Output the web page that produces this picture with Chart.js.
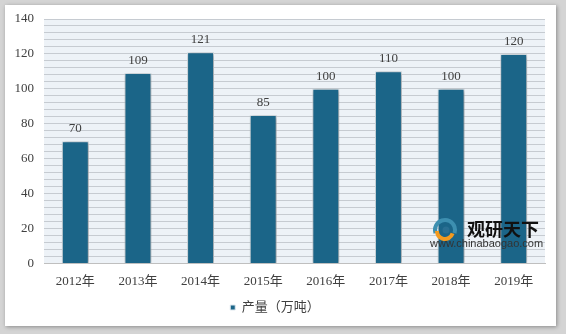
<!DOCTYPE html>
<html>
<head>
<meta charset="utf-8">
<script src="https://cdn.jsdelivr.net/npm/chart.js@4/dist/chart.umd.min.js"></script>
<style>
  html, body { margin: 0; padding: 0; background: #d4d4d4; }
  body { width: 566px; height: 334px; position: relative; overflow: hidden; }
  .panel {
    position: absolute; left: 5px; top: 5px; width: 551px; height: 321px;
    background: #fff; box-shadow: 1px 1px 4px rgba(0,0,0,0.35);
  }
</style>
</head>
<body>
<div class="panel"><canvas id="c" width="551" height="321"></canvas></div>
<script>
// data
const years = ['2012年', '2013年', '2014年', '2015年', '2016年', '2017年', '2018年', '2019年'];
const output = [70, 109, 121, 85, 100, 110, 100, 120];
const seriesName = '产量（万吨）';
const yMax = 140;

const FONT = '"Liberation Serif", "Times New Roman", "Noto Sans CJK SC", serif';

// plot background + bar shadows + value labels + watermark
const decor = {
  id: 'decor',
  beforeDraw(chart) {
    const { ctx, chartArea: a } = chart;
    ctx.save();
    ctx.fillStyle = '#edf2f7';
    ctx.fillRect(a.left, a.top, a.right - a.left, a.bottom - a.top);
    ctx.restore();
  },
  beforeDatasetsDraw(chart) {
    const ctx = chart.ctx;
    ctx.save();
    ctx.shadowColor = 'rgba(0,0,0,0.4)';
    ctx.shadowBlur = 4;
    ctx.shadowOffsetX = 1;
    ctx.shadowOffsetY = 1;
  },
  afterDatasetsDraw(chart) {
    const ctx = chart.ctx;
    ctx.restore();
    ctx.save();
    ctx.font = '13px ' + FONT;
    ctx.fillStyle = '#404040';
    ctx.textAlign = 'center';
    ctx.textBaseline = 'bottom';
    chart.getDatasetMeta(0).data.forEach((bar, i) => {
      ctx.fillText(output[i], bar.x, bar.y - 6);
    });
    ctx.restore();
  },
  afterDraw(chart) {
    const ctx = chart.ctx;
    ctx.save();
    // logo swirl
    const cx = 440, cy = 225;
    ctx.lineWidth = 4;
    ctx.strokeStyle = '#3d8fb0';
    ctx.beginPath(); ctx.arc(cx, cy, 10, Math.PI * 0.9, Math.PI * 2.1); ctx.stroke();
    ctx.strokeStyle = '#f39a1e';
    ctx.beginPath(); ctx.arc(cx, cy + 1, 8, Math.PI * 0.1, Math.PI * 1.0); ctx.stroke();
    ctx.fillStyle = '#2a6f92';
    ctx.beginPath(); ctx.arc(cx + 1, cy, 3.5, 0, Math.PI * 2); ctx.fill();
    ctx.fillStyle = '#111';
    ctx.font = 'bold 18px "Noto Sans CJK SC", sans-serif';
    ctx.textBaseline = 'middle';
    ctx.fillText('观研天下', 462, 224);
    ctx.fillStyle = '#333';
    ctx.font = '11px "Liberation Sans", Arial, sans-serif';
    ctx.fillText('www.chinabaogao.com', 425, 239);
    ctx.restore();
  }
};

new Chart(document.getElementById('c'), {
  type: 'bar',
  data: {
    labels: years,
    datasets: [{
      label: seriesName,
      data: output,
      backgroundColor: '#1b6588',
      borderColor: '#dfe8ee',
      borderWidth: 1,
      borderSkipped: 'bottom',
      barPercentage: 0.86,
      categoryPercentage: 0.5
    }]
  },
  options: {
    responsive: false,
    animation: false,
    layout: { padding: { top: 14, right: 11, left: 0, bottom: 2 } },
    plugins: {
      legend: {
        position: 'bottom',
        labels: {
          boxWidth: 5, boxHeight: 5, padding: 6,
          color: '#404040',
          font: { size: 13, family: FONT }
        }
      },
      tooltip: { enabled: false }
    },
    scales: {
      x: {
        afterFit(s) { s.height += 4; },
        grid: { display: false },
        border: { color: '#bfbfbf' },
        ticks: { color: '#404040', font: { size: 13, family: FONT }, padding: 2, maxRotation: 0 }
      },
      y: {
        min: 0, max: yMax,
        afterFit(s) { s.width = 39; s.paddingTop = 0; },
        grid: { color: '#c6cbd1', drawTicks: false },
        border: { display: false },
        ticks: {
          stepSize: 4, autoSkip: false, padding: 10,
          color: '#404040', font: { size: 13, family: FONT },
          callback: v => (v % 20 === 0 ? v : '')
        }
      }
    }
  },
  plugins: [decor]
});
</script>
</body>
</html>
